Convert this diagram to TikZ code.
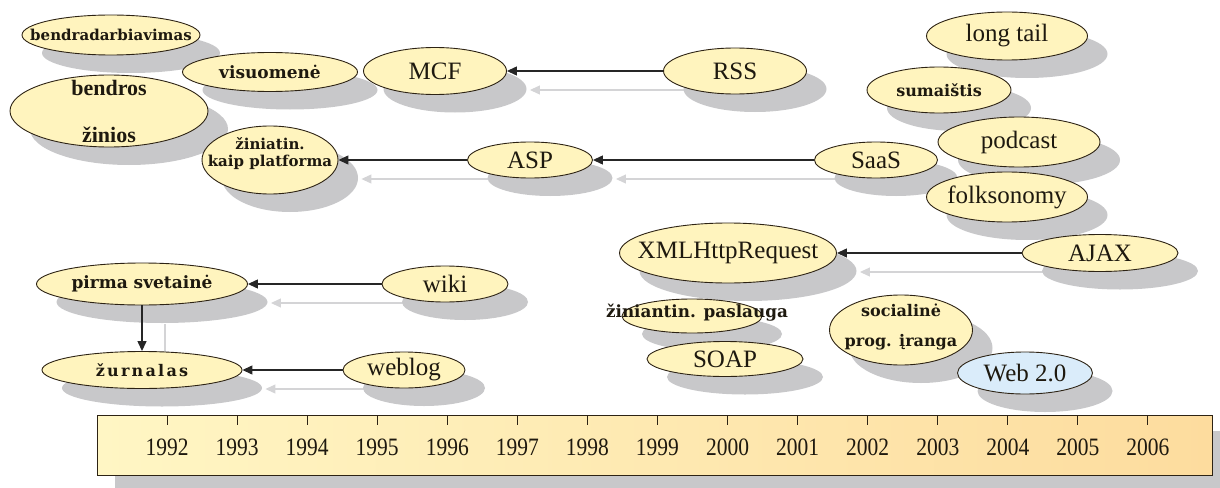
\documentclass[tikz,border=0pt]{standalone}
\usepackage{fontspec}
\setmainfont{Liberation Serif}
\newfontfamily\heavyfont{DejaVu Serif}
\newfontfamily\yearfont{Liberation Serif}[FakeStretch=0.86]
\usetikzlibrary{arrows.meta, shadows, shapes.geometric}

\definecolor{bubfill}{RGB}{255,244,190}
\definecolor{webfill}{RGB}{218,236,250}
\definecolor{edgecol}{RGB}{45,35,20}
\definecolor{txtcol}{RGB}{30,25,15}
\definecolor{shadowgray}{RGB}{200,200,202}
\definecolor{shadowline}{RGB}{212,212,214}
\definecolor{barleft}{RGB}{255,246,196}
\definecolor{barright}{RGB}{253,220,158}

\pgfdeclarelayer{bg}
\pgfsetlayers{bg,main}

\begin{document}
\begin{tikzpicture}[x=1pt, y=-1pt,
    bub/.style={
        ellipse, draw=edgecol, line width=0.9pt, fill=bubfill, inner sep=0pt,
        drop shadow={shadow xshift=20pt, shadow yshift=-18pt, fill=shadowgray, opacity=1},
    },
    web/.style={bub, fill=webfill},
    lbl/.style={font=\fontsize{25}{28}\selectfont, text=txtcol, inner sep=0pt},
    hv/.style 2 args={
        font=\heavyfont\bfseries\fontsize{#1}{#2}\selectfont,
        text=txtcol, inner sep=0pt, align=center,
    },
    hvsp/.style={
        font=\heavyfont\bfseries\addfontfeatures{LetterSpace=14}\fontsize{16}{18}\selectfont,
        text=txtcol, inner sep=0pt,
    },
    bb/.style={font=\bfseries\fontsize{22}{47}\selectfont, text=txtcol, inner sep=0pt, align=center},
    barbox/.style={
        rectangle, draw=edgecol, line width=1pt, left color=barleft, right color=barright,
        drop shadow={shadow xshift=18pt, shadow yshift=-16pt, fill=shadowgray, opacity=1},
    },
    tick/.style={edgecol, line width=1pt},
    yearlbl/.style={font=\yearfont\fontsize{25}{27}\selectfont, text=txtcol, inner sep=0pt},
    arr/.style={-{Triangle[length=10pt, width=9pt]}, line width=1.3pt, black!85},
    arrsh/.style={-{Triangle[length=10pt, width=9pt]}, line width=1.1pt, shadowline},
    shoff/.style={shift={(23,19)}},
]
\useasboundingbox (0,0) rectangle (1220,487);

% --- Time axis ---
\node[barbox, minimum width=1115, minimum height=60] (bar) at (654.5,445) {};
\foreach \yr [count=\i from 0] in {1992,...,2006} {
    \draw[tick] ({167+70.07*\i},415) -- ({167+70.07*\i},425);
    \node[yearlbl] (y\yr) at ({167+70.07*\i},447) {\yr};
}

% --- Bubbles, top to bottom ---
\node[bub, minimum width=178, minimum height=40, label={[hv={15}{17}]center:bendradarbiavimas}] (collab) at (111,35) {};
\node[bub, minimum width=161, minimum height=48, label={[lbl]center:long tail}] (longtail) at (1007,36) {};
\node[bub, minimum width=143, minimum height=46, label={[lbl]center:RSS}] (rss) at (735,71) {};
\node[bub, minimum width=143, minimum height=47, label={[lbl]center:MCF}] (mcf) at (435,71) {};
\node[bub, minimum width=175, minimum height=39, label={[hv={17}{19}]center:visuomenė}] (society) at (270,72) {};
\node[bub, minimum width=144, minimum height=46, label={[hv={16}{18}]center:sumaištis}] (mashup) at (939,90) {};
\node[bub, minimum width=198, minimum height=72, label={[bb]center:bendros\\žinios}] (common) at (109,111) {};
\node[bub, minimum width=162, minimum height=50, label={[lbl]center:podcast}] (podcast) at (1019,142) {};
\node[bub, minimum width=136, minimum height=68, label={[hv={15}{17}, yshift=6pt]center:žiniatin.\\kaip platforma}] (platform) at (270,160) {};
\node[bub, minimum width=125, minimum height=36, label={[lbl]center:ASP}] (asp) at (530,160) {};
\node[bub, minimum width=123, minimum height=36, label={[lbl]center:SaaS}] (saas) at (876,160) {};
\node[bub, minimum width=161, minimum height=50, label={[lbl]center:folksonomy}] (folk) at (1007,197) {};
\node[bub, minimum width=156, minimum height=37, label={[lbl]center:AJAX}] (ajax) at (1100,253) {};
\node[bub, minimum width=217, minimum height=60, label={[lbl]center:XMLHttpRequest}] (xhr) at (728,253) {};
\node[bub, minimum width=211, minimum height=42, label={[hv={17}{19}]center:pirma svetainė}] (firstsite) at (142,284) {};
\node[bub, minimum width=126, minimum height=36, label={[lbl]center:wiki}] (wiki) at (445,284) {};
\node[bub, minimum width=140, minimum height=34, label={[hv={16.8}{18}, xshift=5pt, yshift=3pt]center:žiniantin. paslauga}] (service) at (692,316) {};
\node[bub, minimum width=143, minimum height=70, label={[hv={16}{30}, yshift=3pt]center:socialinė\\prog. įranga}] (social) at (901,330) {};
\node[bub, minimum width=156, minimum height=35, label={[lbl]center:SOAP}] (soap) at (725,359) {};
\node[bub, minimum width=122, minimum height=36, label={[lbl]center:weblog}] (weblog) at (404,370) {};
\node[bub, minimum width=200, minimum height=37, label={[hvsp]center:žurnalas}] (journal) at (142,370) {};
\node[web, minimum width=135, minimum height=42, label={[lbl]center:Web 2.0}] (web) at (1025,373) {};

% --- Connector shadows ---
\begin{pgfonlayer}{bg}
\draw[arrsh] ([shoff]rss.west) -- ([shoff]mcf.east);
\draw[arrsh] ([shoff]saas.west) -- ([shoff]asp.east);
\draw[arrsh] ([shoff]asp.west) -- ([shoff]platform.east);
\draw[arrsh] ([shoff]ajax.west) -- ([shoff]xhr.east);
\draw[arrsh] ([shoff]wiki.west) -- ([shoff]firstsite.east);
\draw[arrsh] ([shoff]weblog.west) -- ([shoff]journal.east);
\draw[arrsh] ([shoff]firstsite.south) -- ([shoff]journal.north);
\end{pgfonlayer}

% --- Connectors ---
\draw[arr] (rss.west) -- (mcf.east);
\draw[arr] (saas.west) -- (asp.east);
\draw[arr] (asp.west) -- (platform.east);
\draw[arr] (ajax.west) -- (xhr.east);
\draw[arr] (wiki.west) -- (firstsite.east);
\draw[arr] (weblog.west) -- (journal.east);
\draw[arr] (firstsite.south) -- (journal.north);

\end{tikzpicture}
\end{document}
